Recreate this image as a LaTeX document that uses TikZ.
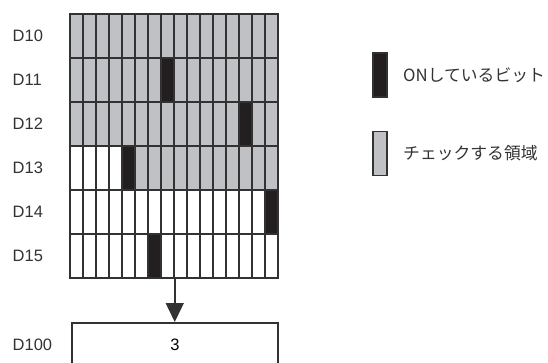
\documentclass[tikz,border=0pt]{standalone}
\usepackage{fontspec}
\setmainfont{Liberation Sans}
\newfontfamily\jpfont{Noto Sans CJK JP}
\usetikzlibrary{arrows.meta,positioning}

\definecolor{chkgray}{RGB}{192,193,197}
\definecolor{onblack}{RGB}{35,31,32}
\definecolor{linegray}{RGB}{50,50,50}

\begin{document}
\begin{tikzpicture}[
    x=1pt, y=-1pt,
    font=\fontsize{16.5}{18}\selectfont,
    >={Triangle[length=19pt, width=18pt]},
    cell/.style    ={rectangle, draw=linegray, line width=1.5pt, inner sep=0pt,
                     minimum width=13pt, minimum height=44pt, fill=white},
    kind0/.style   ={cell},
    kind1/.style   ={cell, fill=chkgray},
    kind2/.style   ={cell, fill=onblack},
    reg/.style     ={anchor=west, text=black!80, inner sep=0pt},
    valbox/.style  ={rectangle, draw=linegray, line width=1.5pt, fill=white,
                     minimum width=206pt, minimum height=44pt, inner sep=0pt},
    key/.style     ={cell, minimum width=14pt},
    lbl/.style     ={anchor=west, inner sep=0pt, text=black!80,
                     font=\jpfont\fontsize{16.8}{20}\selectfont},
    flow/.style    ={->, line width=1.5pt, draw=linegray},
]
\useasboundingbox (0,0) rectangle (548,363);

% ----------------------------------------------------------------------
%  bit table D10..D15  (name / ON bit / first checked bit)
% ----------------------------------------------------------------------
\foreach \name/\on/\from [count=\r from 0] in
    {D10/-1/0, D11/7/0, D12/13/0, D13/4/4, D14/15/16, D15/6/16}{
  \node[reg] (\name) at (12.5, 36+44*\r) {\name};
  \foreach \c in {0,...,15}{
    \pgfmathtruncatemacro\k{(\c==\on) ? 2 : ((\c>=\from) ? 1 : 0)}
    \node[kind\k] (c-\r-\c) at (76.5+13*\c, 36+44*\r) {};
  }
}

% ----------------------------------------------------------------------
%  result register
% ----------------------------------------------------------------------
\node[valbox, anchor=north] (resbox) at (175,322) {3};
\node[reg] (D100) at (12.5,345) {D100};

\draw[flow] (c-5-7.south east) -- (c-5-7.south east |- resbox.north);

% ----------------------------------------------------------------------
%  legend
% ----------------------------------------------------------------------
\node[key, fill=onblack] (keyon)  at (380,75)  {};
\node[lbl] (keyontxt)  at (403,75)  {ONしているビット};
\node[key, fill=chkgray] (keychk) at (380,153.5) {};
\node[lbl] (keychktxt) at (403,153) {チェックする領域};

\end{tikzpicture}
\end{document}
